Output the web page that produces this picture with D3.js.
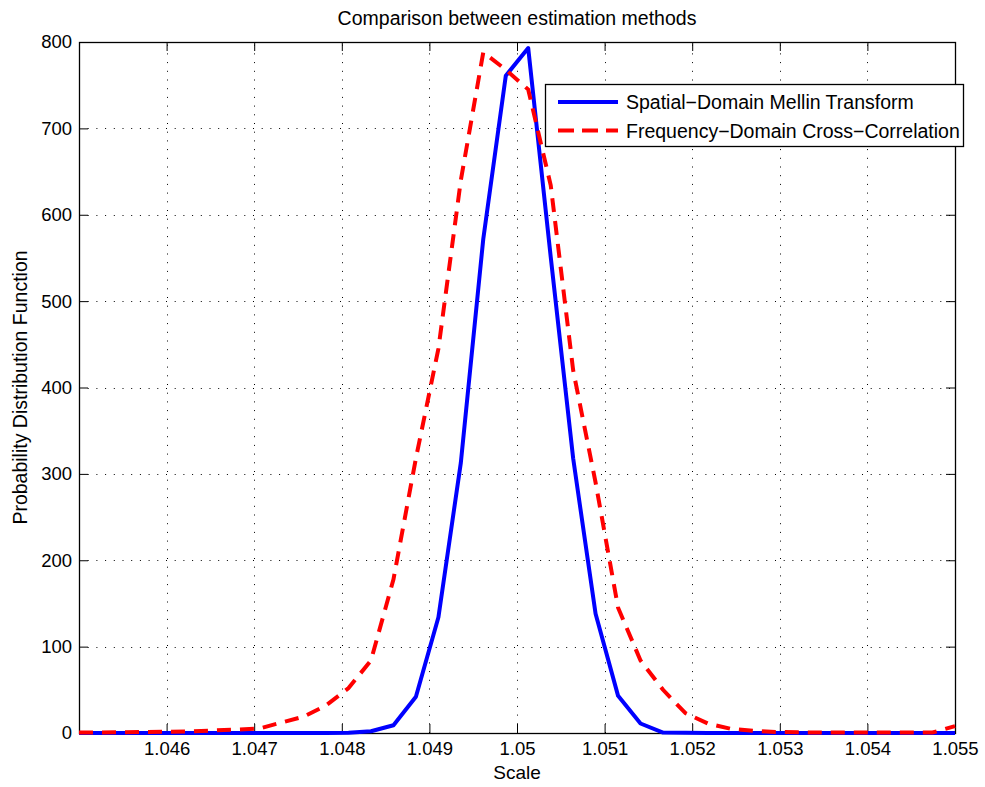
<!DOCTYPE html>
<html>
<head>
<meta charset="utf-8">
<script src="https://cdn.jsdelivr.net/npm/d3@7"></script>
<style>
  body { margin: 0; background: #fff; }
  svg text { font-family: "Liberation Sans", Arial, sans-serif; fill: #000; }
</style>
</head>
<body>
<div id="chart"></div>
<script>
// scale values (40 samples between 1.045 and 1.055)
var scaleValues = [
  1.045000, 1.045256, 1.045513, 1.045769, 1.046026, 1.046282, 1.046538, 1.046795,
  1.047051, 1.047308, 1.047564, 1.047821, 1.048077, 1.048333, 1.048590, 1.048846,
  1.049103, 1.049359, 1.049615, 1.049872, 1.050128, 1.050385, 1.050641, 1.050897,
  1.051154, 1.051410, 1.051667, 1.051923, 1.052179, 1.052436, 1.052692, 1.052949,
  1.053205, 1.053462, 1.053718, 1.053974, 1.054231, 1.054487, 1.054744, 1.055000
];

var mellinValues = [
  0, 0, 0, 0, 0, 0, 0, 0,
  0, 0, 0, 0, 0.3, 2, 9, 42,
  134, 313, 572, 761, 793, 551, 318, 138,
  43, 11, 0.5, 0.2, 0, 0, 0, 0,
  0, 0, 0, 0, 0, 0, 0, 0
];

var crossCorrValues = [
  0.5, 0.7, 1, 1.2, 1.5, 2, 3, 4,
  5, 12, 19, 32, 52, 84, 178, 318,
  445, 640, 788, 768, 745, 634, 420, 290,
  145, 84, 50, 23, 11, 5, 2.5, 1.2,
  0.8, 0.6, 0.6, 0.6, 0.6, 0.6, 0.6, 8
];

var xTicks = [1.046, 1.047, 1.048, 1.049, 1.05, 1.051, 1.052, 1.053, 1.054, 1.055];
var yTicks = [0, 100, 200, 300, 400, 500, 600, 700, 800];

var seriesNames = ["Spatial\u2212Domain Mellin Transform", "Frequency\u2212Domain Cross\u2212Correlation"];

var width = 985;
var height = 787;
var margin = { top: 42, right: 30, bottom: 54, left: 79 };

var svg = d3.select("#chart").append("svg")
  .attr("width", width)
  .attr("height", height);

var x = d3.scaleLinear()
  .domain([1.045, 1.055])
  .range([margin.left, width - margin.right]);

var y = d3.scaleLinear()
  .domain([0, 800])
  .range([height - margin.bottom, margin.top]);

var x0 = margin.left, x1 = width - margin.right;
var y0 = height - margin.bottom, y1 = margin.top;

// dotted grid
var grid = svg.append("g").attr("class", "grid")
  .attr("stroke", "#000")
  .attr("stroke-width", 1)
  .attr("stroke-dasharray", "1,7.7");

grid.selectAll("line.v")
  .data(xTicks)
  .join("line")
  .attr("class", "v")
  .attr("x1", d => Math.round(x(d)) + 0.5)
  .attr("x2", d => Math.round(x(d)) + 0.5)
  .attr("y1", y0)
  .attr("y2", y1);

grid.selectAll("line.h")
  .data(yTicks)
  .join("line")
  .attr("class", "h")
  .attr("x1", x0)
  .attr("x2", x1)
  .attr("y1", d => Math.round(y(d)) + 0.5)
  .attr("y2", d => Math.round(y(d)) + 0.5);

// axes with inward ticks (MATLAB style)
function xAxis(g) {
  g.attr("transform", `translate(0, ${y0})`)
    .call(d3.axisBottom(x).tickValues(xTicks).tickSize(-9).tickPadding(9)
      .tickFormat(d => d3.format("")(+d.toFixed(3))));
}
function xAxisTop(g) {
  g.attr("transform", `translate(0, ${y1})`)
    .call(d3.axisTop(x).tickValues(xTicks).tickSize(-9).tickFormat(""));
}
function yAxis(g) {
  g.attr("transform", `translate(${x0}, 0)`)
    .call(d3.axisLeft(y).tickValues(yTicks).tickSize(-9).tickPadding(7));
}
function yAxisRight(g) {
  g.attr("transform", `translate(${x1}, 0)`)
    .call(d3.axisRight(y).tickValues(yTicks).tickSize(-9).tickFormat(""));
}

[xAxis, xAxisTop, yAxis, yAxisRight].forEach(function (fn) {
  var g = svg.append("g").attr("class", "axis").call(fn);
  g.selectAll("text")
    .style("font-size", "18.5px")
    .style("font-family", "'Liberation Sans', Arial, sans-serif")
    .attr("fill", "#000");
  g.selectAll("line").attr("stroke", "#000");
  g.select(".domain").remove();
});

// box
svg.append("rect")
  .attr("x", x0 + 0.5)
  .attr("y", y1 + 0.5)
  .attr("width", x1 - x0)
  .attr("height", y0 - y1)
  .attr("fill", "none")
  .attr("stroke", "#000")
  .attr("stroke-width", 1.3);

// series lines
var line = d3.line()
  .x((d, i) => x(scaleValues[i]))
  .y(d => y(d));

svg.append("path")
  .datum(mellinValues)
  .attr("fill", "none")
  .attr("stroke", "#0000ff")
  .attr("stroke-width", 4)
  .attr("stroke-linejoin", "round")
  .attr("d", line);

svg.append("path")
  .datum(crossCorrValues)
  .attr("fill", "none")
  .attr("stroke", "#ff0000")
  .attr("stroke-width", 4)
  .attr("stroke-dasharray", "14,9")
  .attr("d", line);

// titles
svg.append("text")
  .attr("x", (x0 + x1) / 2)
  .attr("y", 25)
  .attr("text-anchor", "middle")
  .style("font-size", "19.5px")
  .text("Comparison between estimation methods");

svg.append("text")
  .attr("x", (x0 + x1) / 2)
  .attr("y", 779)
  .attr("text-anchor", "middle")
  .style("font-size", "19px")
  .text("Scale");

svg.append("text")
  .attr("transform", `translate(27, ${(y0 + y1) / 2}) rotate(-90)`)
  .attr("text-anchor", "middle")
  .style("font-size", "19.5px")
  .text("Probability Distribution Function");

// legend
var legend = svg.append("g").attr("transform", "translate(545, 84)");
legend.append("rect")
  .attr("x", 0.5)
  .attr("y", 0.5)
  .attr("width", 418)
  .attr("height", 62)
  .attr("fill", "#fff")
  .attr("stroke", "#000")
  .attr("stroke-width", 1.3);

var legendStyles = [
  { color: "#0000ff", dash: null },
  { color: "#ff0000", dash: "16,8" }
];

seriesNames.forEach(function (name, i) {
  var row = legend.append("g").attr("transform", `translate(0, ${18 + i * 28.5})`);
  row.append("line")
    .attr("x1", 13)
    .attr("x2", 73)
    .attr("stroke", legendStyles[i].color)
    .attr("stroke-width", 4)
    .attr("stroke-dasharray", legendStyles[i].dash);
  row.append("text")
    .attr("x", 81)
    .attr("y", 7)
    .style("font-size", "19.5px")
    .text(name);
});
</script>
</body>
</html>
